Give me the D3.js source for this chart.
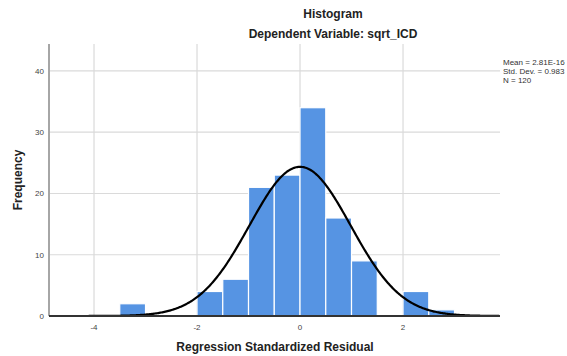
<!DOCTYPE html>
<html>
<head>
<meta charset="utf-8">
<script src="https://cdn.jsdelivr.net/npm/d3@7"></script>
<style>
  body { margin: 0; background: #fff; }
  text { font-family: "Liberation Sans", Arial, sans-serif; }
</style>
</head>
<body>
<svg id="chart" width="567" height="356"></svg>
<script>
// histogram bins (lower edge, upper edge) and counts
var binStart = [-3.5, -2.0, -1.5, -1.0, -0.5, 0.0, 0.5, 1.0, 2.0, 2.5];
var binEnd   = [-3.0, -1.5, -1.0, -0.5,  0.0, 0.5, 1.0, 1.5, 2.5, 3.0];
var counts   = [2, 4, 6, 21, 23, 34, 16, 9, 4, 1];

var xTicks = [-4, -2, 0, 2];
var yTicks = [0, 10, 20, 30, 40];
var statLines = ["Mean = 2.81E-16", "Std. Dev. = 0.983", "N = 120"];

var mean = 0, sd = 0.983, n = 120, binWidth = 0.5;

var svg = d3.select("#chart");
var pLeft = 49, pRight = 500, pTop = 44, pBottom = 316;

var x = d3.scaleLinear().domain([-4.874, 3.883]).range([pLeft, pRight]);
var y = d3.scaleLinear().domain([0, 44.4]).range([pBottom, pTop]);

// gridlines
svg.selectAll("line.hgrid").data(yTicks.slice(1)).enter().append("line")
  .attr("class", "hgrid")
  .attr("x1", pLeft).attr("x2", pRight)
  .attr("y1", function(d) { return y(d); }).attr("y2", function(d) { return y(d); })
  .attr("stroke", "#dadada").attr("stroke-width", 1.2);

svg.selectAll("line.vgrid").data(xTicks).enter().append("line")
  .attr("class", "vgrid")
  .attr("x1", function(d) { return x(d); }).attr("x2", function(d) { return x(d); })
  .attr("y1", pTop).attr("y2", pBottom)
  .attr("stroke", "#dadada").attr("stroke-width", 1.2);

// bars
svg.selectAll("rect.bar").data(counts).enter().append("rect")
  .attr("class", "bar")
  .attr("x", function(d, i) { return x(binStart[i]); })
  .attr("width", function(d, i) { return x(binEnd[i]) - x(binStart[i]); })
  .attr("y", function(d) { return y(d); })
  .attr("height", function(d) { return y(0) - y(d); })
  .attr("fill", "#5694e3")
  .attr("stroke", "#ffffff").attr("stroke-width", 1.2);

// normal curve
var curveX = d3.range(-4.874, 3.884, 0.02);
var line = d3.line()
  .x(function(d) { return x(d); })
  .y(function(d) {
    var z = (d - mean) / sd;
    return y(n * binWidth / (sd * Math.sqrt(2 * Math.PI)) * Math.exp(-0.5 * z * z));
  });
svg.append("path").datum(curveX)
  .attr("d", line)
  .attr("fill", "none").attr("stroke", "#000").attr("stroke-width", 2.2);

// axes
svg.append("line")
  .attr("x1", pLeft).attr("x2", pLeft).attr("y1", pTop).attr("y2", pBottom)
  .attr("stroke", "#a6a6a6").attr("stroke-width", 2);
svg.append("line")
  .attr("x1", pLeft).attr("x2", pRight).attr("y1", pBottom).attr("y2", pBottom)
  .attr("stroke", "#333").attr("stroke-width", 2.2);

svg.selectAll("text.xt").data(xTicks).enter().append("text")
  .attr("class", "xt")
  .attr("x", function(d) { return x(d); }).attr("y", 330)
  .attr("text-anchor", "middle").attr("font-size", 8).attr("fill", "#444")
  .text(function(d) { return d; });

svg.selectAll("text.yt").data(yTicks).enter().append("text")
  .attr("class", "yt")
  .attr("x", 44).attr("y", function(d) { return y(d) + 3; })
  .attr("text-anchor", "end").attr("font-size", 8).attr("fill", "#444")
  .text(function(d) { return d; });

// titles
svg.append("text").attr("x", 333).attr("y", 18)
  .attr("text-anchor", "middle").attr("font-size", 12).attr("font-weight", "bold").attr("fill", "#222")
  .text("Histogram");
svg.append("text").attr("x", 333).attr("y", 38)
  .attr("text-anchor", "middle").attr("font-size", 12).attr("font-weight", "bold").attr("fill", "#222")
  .text("Dependent Variable: sqrt_ICD");
svg.append("text").attr("x", 275).attr("y", 351)
  .attr("text-anchor", "middle").attr("font-size", 12).attr("font-weight", "bold").attr("fill", "#222")
  .text("Regression Standardized Residual");
svg.append("text").attr("transform", "translate(22,180) rotate(-90)")
  .attr("text-anchor", "middle").attr("font-size", 12).attr("font-weight", "bold").attr("fill", "#222")
  .text("Frequency");

// stats box
svg.selectAll("text.stat").data(statLines).enter().append("text")
  .attr("class", "stat")
  .attr("x", 503).attr("y", function(d, i) { return 65 + i * 9.2; })
  .attr("font-size", 8).attr("fill", "#333")
  .text(function(d) { return d; });
</script>
</body>
</html>
